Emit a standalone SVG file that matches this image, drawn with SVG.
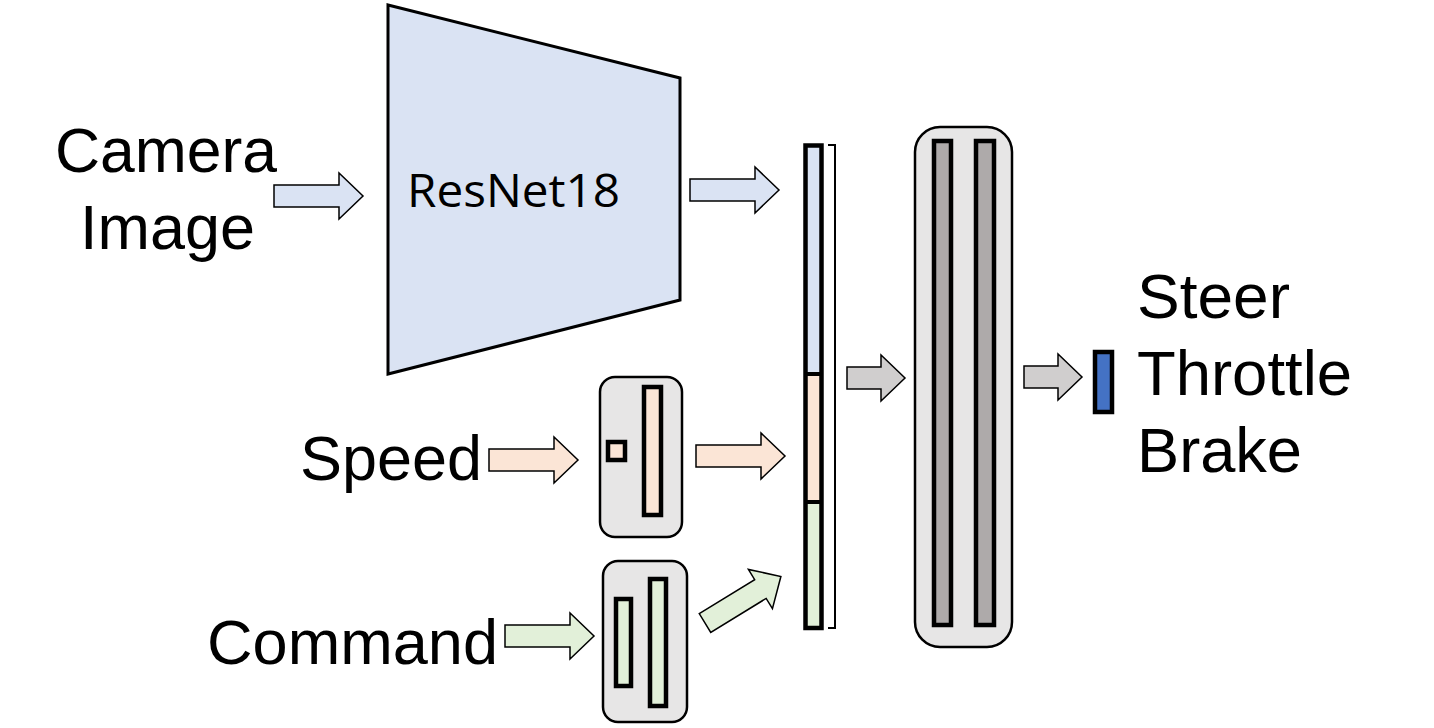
<svg xmlns="http://www.w3.org/2000/svg" width="1434" height="728" viewBox="0 0 1434 728">
<style>
.lbl{font-family:"Liberation Sans",Arial,sans-serif;font-size:63px;fill:#000}
.arr{stroke:#000;stroke-width:1.5;stroke-linejoin:miter}
.blue{fill:#dae3f3}.peach{fill:#fbe5d6}.green{fill:#e2f0d9}.gray{fill:#d0cece}
.box{fill:#e7e6e6;stroke:#000;stroke-width:2.5}
.bar{stroke:#000;stroke-width:4.5}
</style>
<defs>
<polygon id="arrL" points="0,-11 65,-11 65,-23 89,0 65,23 65,11 0,11"/>
<polygon id="arrS" points="0,-11 34,-11 34,-23 58,0 34,23 34,11 0,11"/>
</defs>
<rect width="1434" height="728" fill="#fff"/>
<g id="camera-label">
<text class="lbl" x="55" y="172" textLength="222" lengthAdjust="spacingAndGlyphs">Camera</text>
<text class="lbl" x="80" y="249" textLength="175" lengthAdjust="spacingAndGlyphs">Image</text>
</g>
<g id="resnet">
<polygon points="388,5 680,78 680,300 388,374" fill="#dae3f3" stroke="#000" stroke-width="3"/>
<text x="407" y="207" font-family="'Open Sans',Lato,sans-serif" font-size="46" textLength="213" lengthAdjust="spacingAndGlyphs">ResNet18</text>
</g>
<g id="speed-label"><text class="lbl" x="300" y="480" textLength="182" lengthAdjust="spacingAndGlyphs">Speed</text></g>
<g id="command-label"><text class="lbl" x="207" y="664" textLength="291" lengthAdjust="spacingAndGlyphs">Command</text></g>
<g id="speed-mlp">
<rect class="box" x="600" y="377" width="82" height="160" rx="15"/>
<rect class="bar peach" x="608" y="442" width="17" height="18"/>
<rect class="bar peach" x="644" y="387" width="17" height="128"/>
</g>
<g id="command-mlp">
<rect class="box" x="603" y="561" width="84" height="161" rx="15"/>
<rect class="bar green" x="616" y="599" width="15" height="87"/>
<rect class="bar green" x="650" y="579" width="16" height="127"/>
</g>
<g id="concat">
<rect x="805.5" y="145.5" width="16" height="229" fill="#dae3f3"/>
<rect x="805.5" y="374" width="16" height="128" fill="#fbe5d6"/>
<rect x="805.5" y="502" width="16" height="126" fill="#e2f0d9"/>
<line x1="805" y1="374" x2="822" y2="374" stroke="#000" stroke-width="4"/>
<line x1="805" y1="502" x2="822" y2="502" stroke="#000" stroke-width="4"/>
<rect x="805.5" y="145.5" width="16" height="482.5" fill="none" stroke="#000" stroke-width="4.5"/>
<path d="M828,145 H835 V628 H828" fill="none" stroke="#000" stroke-width="2"/>
</g>
<g id="mlp">
<rect class="box" x="915" y="127" width="97" height="520" rx="25"/>
<rect class="bar" x="934" y="141" width="17" height="484" fill="#aeaaaa"/>
<rect class="bar" x="976" y="141" width="18" height="484" fill="#aeaaaa"/>
</g>
<g id="output">
<rect class="bar" x="1095" y="352" width="17" height="60" fill="#4472c4"/>
</g>
<g id="output-labels">
<text class="lbl" x="1137" y="318" textLength="153" lengthAdjust="spacingAndGlyphs">Steer</text>
<text class="lbl" x="1137" y="395" textLength="215" lengthAdjust="spacingAndGlyphs">Throttle</text>
<text class="lbl" x="1137" y="472" textLength="165" lengthAdjust="spacingAndGlyphs">Brake</text>
</g>
<g id="connectors">
<use href="#arrL" class="arr blue" transform="translate(274,196)"/>
<use href="#arrL" class="arr blue" transform="translate(690,190)"/>
<use href="#arrL" class="arr peach" transform="translate(489,460)"/>
<use href="#arrL" class="arr peach" transform="translate(696,456)"/>
<use href="#arrL" class="arr green" transform="translate(505,636)"/>
<use href="#arrL" class="arr green" transform="translate(705,623) rotate(-31.5)"/>
<use href="#arrS" class="arr gray" transform="translate(847,378)"/>
<use href="#arrS" class="arr gray" transform="translate(1024,377)"/>
</g>
</svg>
